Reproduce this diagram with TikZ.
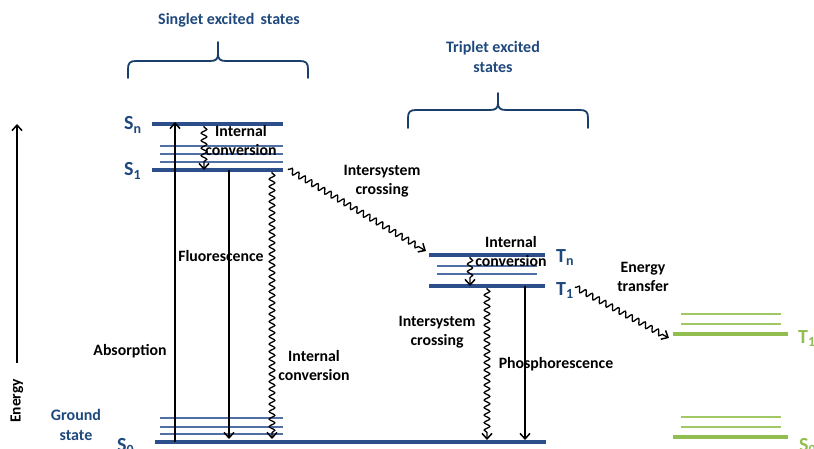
\documentclass[tikz,border=0pt]{standalone}
\usepackage{fontspec}
\setmainfont{Carlito}
\usetikzlibrary{arrows.meta,decorations.pathmorphing}
\definecolor{navy}{RGB}{31,73,125}
\definecolor{lvlblue}{RGB}{44,79,140}
\definecolor{subblue}{RGB}{80,112,165}
\definecolor{grn}{RGB}{146,190,80}
\definecolor{grnlt}{RGB}{160,200,100}
\tikzset{
  lvl/.style={draw=lvlblue, line width=4pt},
  sublvl/.style={draw=subblue, line width=1.6pt},
  glvl/.style={draw=grn, line width=4pt},
  gsub/.style={draw=grnlt, line width=1.6pt},
  rad/.style={draw=black, line width=1.5pt, -{Straight Barb[length=5.5pt,width=10pt,line width=1.5pt]}},
  nonrad/.style={draw=black, line width=1.3pt, -{Straight Barb[length=5.5pt,width=10pt,line width=1.5pt]},
    decorate, decoration={snake, amplitude=2.8pt, segment length=7.5pt, post length=6pt, pre length=1pt}},
  lbl/.style={font=\fontsize{15.8}{19}\selectfont\bfseries, text=black, inner sep=0pt, align=center},
  blbl/.style={font=\fontsize{16}{20}\selectfont\bfseries, text=navy, inner sep=0pt, align=center},
  slbl/.style={font=\fontsize{20}{22}\selectfont\bfseries, text=navy, inner sep=0pt, anchor=base west},
  gslbl/.style={font=\fontsize{20}{22}\selectfont\bfseries, text=grn, inner sep=0pt, anchor=base west},
  bracestyle/.style={draw=navy!85!black, line width=1.8pt, line cap=round, line join=round},
}
\begin{document}
\begin{tikzpicture}[x=1pt,y=-1pt]
\useasboundingbox (0,0) rectangle (814,449);
% braces
\draw[bracestyle] (128,78) -- (128,69) .. controls (128,63) and (130,61) .. (136,61) -- (210,61)
  .. controls (216,61) and (218,59) .. (218,54) -- (218,42) (218,54) .. controls (218,59) and (220,61) .. (226,61)
  -- (300,61) .. controls (306,61) and (308,63) .. (308,69) -- (308,78);
\draw[bracestyle] (408,128) -- (408,118) .. controls (408,112) and (410,110) .. (416,110) -- (490,110)
  .. controls (496,110) and (498,108) .. (498,103) -- (498,93) (498,103) .. controls (498,108) and (500,110) .. (506,110)
  -- (580,110) .. controls (586,110) and (588,112) .. (588,118) -- (588,128);
\node[blbl] (singlet) at (229,20) {Singlet excited\, states};
\node[blbl] (triplet) at (493,57) {Triplet excited\\states};

% singlet levels
\coordinate (SnA) at (152,124); \coordinate (SnB) at (283,124);
\coordinate (S1A) at (152,170); \coordinate (S1B) at (283,170);
\coordinate (S0A) at (155,442); \coordinate (S0B) at (546,442);
\draw[lvl] (SnA) -- (SnB);
\draw[sublvl] (160,146) -- (283,146);
\draw[sublvl] (160,154) -- (283,154);
\draw[sublvl] (160,162) -- (283,162);
\draw[lvl] (S1A) -- (S1B);
\draw[sublvl] (160,418) -- (283,418);
\draw[sublvl] (160,427) -- (283,427);
\draw[sublvl] (160,434) -- (283,434);
\draw[lvl] (S0A) -- (S0B);
\node[slbl] (Sn) at (124,130) {S\textsubscript{n}};
\node[slbl] (S1) at (124,176) {S\textsubscript{1}};
\node[slbl] (S0) at (117,451) {S\textsubscript{0}};

% triplet levels
\coordinate (TnA) at (429,255); \coordinate (TnB) at (545,255);
\coordinate (T1A) at (429,286); \coordinate (T1B) at (545,286);
\draw[lvl] (TnA) -- (TnB);
\draw[sublvl] (437,266) -- (537,266);
\draw[sublvl] (437,274) -- (537,274);
\draw[lvl] (T1A) -- (T1B);
\node[slbl] (Tn) at (556,262) {T\textsubscript{n}};
\node[slbl] (T1) at (556,295) {T\textsubscript{1}};

% acceptor (green)
\coordinate (gT1A) at (673,334); \coordinate (gT1B) at (788,334);
\draw[gsub] (681,314) -- (781,314);
\draw[gsub] (681,324) -- (781,324);
\draw[glvl] (gT1A) -- (gT1B);
\draw[gsub] (681,417) -- (781,417);
\draw[gsub] (681,427) -- (781,427);
\draw[glvl] (673,437) -- (788,437);
\node[gslbl] (gT1) at (798,343) {T\textsubscript{1}};
\node[gslbl] (gS0) at (799,451) {S\textsubscript{0}};

% transitions
\coordinate (abs0) at (175,442); \coordinate (abs1) at (175,122);
\draw[rad] (abs0) -- (abs1);
\coordinate (ic1a) at (204,126); \coordinate (ic1b) at (204,170);
\draw[nonrad] (ic1a) -- (ic1b);
\coordinate (fl0) at (229,170); \coordinate (fl1) at (229,439);
\draw[rad] (fl0) -- (fl1);
\coordinate (ic2a) at (272,172); \coordinate (ic2b) at (272,439);
\draw[nonrad] (ic2a) -- (ic2b);
\coordinate (isc1a) at (288,169); \coordinate (isc1b) at (426,251);
\draw[nonrad] (isc1a) -- (isc1b);
\coordinate (ic3a) at (470,257); \coordinate (ic3b) at (470,286);
\draw[nonrad, decoration={snake, amplitude=2.6pt, segment length=7.5pt, post length=5pt}] (ic3a) -- (ic3b);
\coordinate (isc2a) at (487,288); \coordinate (isc2b) at (487,440);
\draw[nonrad] (isc2a) -- (isc2b);
\coordinate (ph0) at (525,286); \coordinate (ph1) at (525,440);
\draw[rad] (ph0) -- (ph1);
\coordinate (etA) at (575,287); \coordinate (etB) at (669,338);
\draw[nonrad] (etA) -- (etB);

% energy axis
\coordinate (eA) at (17,363); \coordinate (eB) at (17,124);
\draw[rad] (eA) -- (eB);
\node[lbl, rotate=90, font=\fontsize{15.5}{18}\selectfont\bfseries] (energy) at (17,401) {Energy};

% labels
\node[lbl] (lic1) at (241,141) {Internal\\conversion};
\node[lbl] (lfl) at (221,256) {Fluorescence};
\node[lbl] (labs) at (130,351) {Absorption};
\node[lbl] (lic2) at (314,366) {Internal\\conversion};
\node[lbl] (lisc1) at (382,181) {Intersystem\\crossing};
\node[lbl] (lic3) at (511,252) {Internal\\conversion};
\node[lbl] (lisc2) at (437,332) {Intersystem\\crossing};
\node[lbl] (lph) at (556,364) {Phosphorescence};
\node[lbl] (let) at (643,277) {Energy\\transfer};
\node[blbl] (lgs) at (76,425) {Ground\\state};
\end{tikzpicture}
\end{document}
